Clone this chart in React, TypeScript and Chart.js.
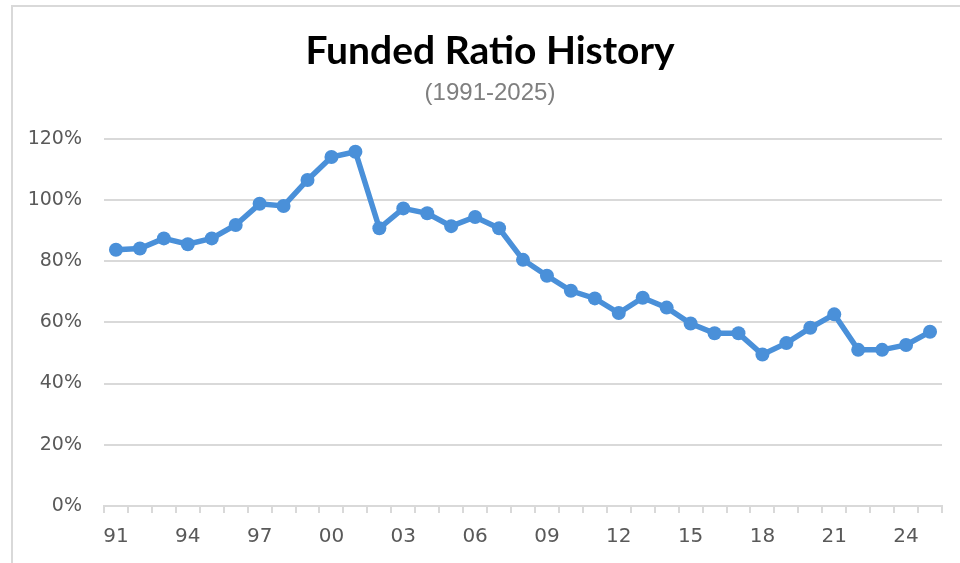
import React, { useEffect, useRef } from "react";
import { Chart, registerables } from "chart.js";

Chart.register(...registerables);

const years: string[] = [
  "91", "92", "93", "94", "95", "96", "97", "98", "99", "00",
  "01", "02", "03", "04", "05", "06", "07", "08", "09", "10",
  "11", "12", "13", "14", "15", "16", "17", "18", "19", "20",
  "21", "22", "23", "24", "25",
];

const fundedRatio: number[] = [
  83.7, 84.1, 87.4, 85.5, 87.4, 91.8, 98.7, 98.0, 106.5, 114.0,
  115.7, 90.7, 97.2, 95.6, 91.4, 94.4, 90.7, 80.4, 75.2, 70.3,
  67.8, 63.0, 68.0, 64.8, 59.6, 56.4, 56.4, 49.5, 53.2, 58.2,
  62.6, 51.0, 51.0, 52.6, 56.9,
];

const yTicks: number[] = [0, 20, 40, 60, 80, 100, 120];

const titleText = "Funded Ratio History";
const subtitleText = "(1991-2025)";

export default function App() {
  const canvasRef = useRef<HTMLCanvasElement | null>(null);

  useEffect(() => {
    if (!canvasRef.current) return;
    const chart = new Chart(canvasRef.current, {
      type: "line",
      data: {
        labels: years,
        datasets: [
          {
            data: fundedRatio,
            yAxisID: "y",
            borderColor: "#4a90d9",
            backgroundColor: "#4a90d9",
            borderWidth: 5.5,
            pointRadius: 7,
            pointBackgroundColor: "#4a90d9",
            pointBorderWidth: 0,
            tension: 0,
          },
        ],
      },
      options: {
        animation: false,
        responsive: false,
        maintainAspectRatio: false,
        layout: { padding: { left: 20, right: 0, top: 0, bottom: 2 } },
        plugins: {
          legend: { display: false },
          tooltip: { enabled: false },
          title: {
            display: true,
            text: titleText,
            color: "#000000",
            font: { family: "Lato, 'Open Sans', sans-serif", size: 39, weight: "bold", lineHeight: 1.2 },
            padding: { top: 28, bottom: 4 },
          },
          subtitle: {
            display: true,
            text: subtitleText,
            color: "#7f7f7f",
            font: { family: "'Liberation Sans', Arial, sans-serif", size: 24, lineHeight: 1.2 },
            padding: { top: 0, bottom: 31 },
          },
        },
        scales: {
          x: {
            type: "category",
            offset: true,
            grid: {
              display: true,
              drawOnChartArea: false,
              drawTicks: true,
              tickLength: 7,
              offset: true,
              color: "#d9d9d9",
              lineWidth: 2,
            },
            border: { display: true, color: "#d9d9d9", width: 2 },
            ticks: {
              autoSkip: false,
              maxRotation: 0,
              minRotation: 0,
              padding: 12,
              color: "#595959",
              font: { family: "'DejaVu Sans', sans-serif", size: 20, lineHeight: 1.2 },
              callback: (_v: any, i: number) => (i % 3 === 0 ? years[i] : ""),
            },
          },
          y: {
            position: "left",
            min: 0,
            max: 120,
            afterBuildTicks: (scale: any) => {
              scale.ticks = yTicks.map((v) => ({ value: v }));
            },
            afterFit: (scale: any) => {
              scale.width = 84;
            },
            grid: {
              display: true,
              drawTicks: false,
              color: "#d9d9d9",
              lineWidth: 2,
            },
            border: { display: false },
            ticks: {
              padding: 22,
              color: "#595959",
              font: { family: "'DejaVu Sans', sans-serif", size: 19 },
              callback: (v: any) => `${v}%`,
            },
          },
          spacer: {
            type: "linear",
            position: "right",
            display: true,
            grid: { display: false, drawTicks: false },
            border: { display: false },
            ticks: { display: false },
            afterFit: (scale: any) => {
              scale.width = 18;
            },
          },
        },
      },
    });
    return () => chart.destroy();
  }, []);

  return (
    <div style={{ position: "fixed", left: 0, top: 0, width: 960, height: 563, background: "#ffffff", overflow: "hidden" }}>
      <canvas ref={canvasRef} width={960} height={563} style={{ position: "absolute", left: 0, top: 0, width: 960, height: 563 }} />
      <div
        style={{
          position: "absolute",
          left: 11,
          top: 5,
          width: 2000,
          height: 2000,
          borderTop: "2px solid #d9d9d9",
          borderLeft: "2px solid #d9d9d9",
          pointerEvents: "none",
        }}
      />
    </div>
  );
}
